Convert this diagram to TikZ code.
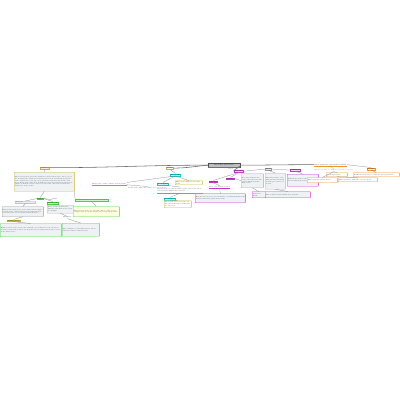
\documentclass[tikz,border=0pt]{standalone}
\usepackage{tikz}
\definecolor{brYellow}{HTML}{C9B53A}
\definecolor{brGreen}{HTML}{3FD63F}
\definecolor{brCyan}{HTML}{19C8D2}
\definecolor{brMagenta}{HTML}{CC33CC}
\definecolor{brOrange}{HTML}{F0922E}
\definecolor{brGray}{HTML}{999999}
\definecolor{notebg}{HTML}{EEF2F4}
\newcommand{\notesize}{\fontsize{4}{5.2}\selectfont}
\newcommand{\lblsize}{\fontsize{4.2}{4.8}\selectfont}

\begin{document}
\begin{tikzpicture}[x=1mm, y=-1mm,
  note/.style={draw=#1, fill=notebg, line width=0.3mm, rounded corners=0.4mm,
    anchor=north west, align=left, inner sep=0.6mm, font=\notesize, text=black!90},
  lbl/.style={draw=#1, fill=#1!20, line width=0.3mm, anchor=north west,
    inner sep=0.4mm, font=\lblsize, text=black},
  plain/.style={anchor=north west, inner sep=0.4mm, font=\notesize, align=left, text=black!90},
  sz/.style 2 args={text width=#1mm, minimum height=#2mm},
  link/.style={draw=black!50, line width=0.25mm},
  trunk/.style={draw=black!60, line width=0.55mm}]
\useasboundingbox (0,0) rectangle (400,400);

% root
\node[draw=black!70, fill=black!25, line width=0.3mm, anchor=north west, inner sep=0.4mm,
  minimum width=32mm, minimum height=4mm, font=\lblsize] (root) at (208,163) {Mind Map (Overview)};
\draw[brMagenta, line width=0.4mm] (root.south west) -- (root.south east);
\node[plain] (rootnote) at (228,168.5) {notes};

% yellow branch, left
\node[lbl=brYellow] (sum) at (40,166.5) {Summary};
\node[note=brYellow, sz={59}{19}] (sumtxt) at (14,172)
 {The overview note gives the main idea of the whole topic, the scope of the work and the terms
  used in the parts below. It lists the goals, the sources that were read, the open questions and
  the plan for the next steps. Each part of the map is linked to the part of this note that it
  explains, so that the notes can be read in order. The text is short here; details are in the boxes.};
\node[lbl=brGreen, fill=brGreen!45] (base) at (37,197.5) {Basics};
\node[note=black!35, sz={19}{2.4}] (left) at (15,201) {Left part};
\node[plain] (rightlbl) at (52,198.5) {Right};
\node[note=black!40, sz={40}{10}] (lefttxt) at (2,206.5)
 {First point of the basic part, with a short explanation of the terms and of the way that they
  are used later; the second point follows from it.};
\node[lbl=brGreen] (midlbl) at (47,201.5) {Middle part};
\node[note=black!30, sz={25}{8}] (midtxt) at (47,205)
 {Notes on the middle part, with the rule that is used and an example.};
\node[lbl=brGreen, fill=brGreen!25, text=brGreen!70!black] (steps) at (75,199) {Steps and methods of the work here};
\node[note=brGreen, fill=yellow!12, sz={45}{10}] (stepstxt) at (73,206.5)
 {The steps are done one after the other: collect, sort, compare and check the results, then
  write them down.};
\node[lbl=brYellow, fill=brGreen!30] (extra) at (7,219.5) {Further notes};
\node[note=brGreen, sz={60}{13}] (extratxt) at (0,223.5)
 {Further notes on the basic part, with the cases that were left out above and the reasons for
  it; these are kept for later reading and for the review of the whole topic.};
\node[plain] (exlbl) at (63,216.5) {Examples};
\node[note=brGreen, sz={36}{13}] (extxt) at (62,223)
 {Two examples, each with its data, the result and a short comment on it.};

% yellow branch, middle (cyan children)
\node[lbl=brYellow, fill=white] (outline) at (166,167) {Outline};
\node[lbl=brCyan] (parts) at (170,173.5) {Main parts};
\node[plain, font=\lblsize] (first) at (92,182.5) {First part of the outline and its items};
\draw[brCyan, line width=0.4mm] (first.south west) -- (first.south east);
\node[plain, sz={39}{4}] (firsttxt) at (128,186.5) {Items of the first part, with a note on each one.};
\node[lbl=brCyan] (second) at (157,182.5) {Second part};
\node[note=brYellow, fill=white, sz={26}{4}] (third) at (175,180.5) {Third part, with the list of its items};
\node[plain, sz={45}{6}] (secondtxt) at (157,187) {Notes for the second and third parts: the items, their order and the links between them.};
\draw[brCyan, line width=0.4mm] (secondtxt.south west) -- (secondtxt.south east);
\node[lbl=brCyan] (fourth) at (164,197.5) {Fourth part};
\node[note=brYellow, fill=white, sz={26}{7}] (fourthtxt) at (164,200.5)
 {The fourth part closes the outline and names the results that are expected.};

% magenta branch
\node[lbl=brMagenta] (ideas) at (234,170) {Key ideas};
\node[lbl=brMagenta] (ideaA) at (209,180.5) {Idea one};
\node[lbl=brMagenta] (ideaB) at (226,177.5) {Idea two};
\node[note=black!35, sz={21}{14}] (ideaBtxt) at (241,173.5)
 {Idea two in short: the cause, the effect and the case in which it holds, with a note.};
\node[plain, font=\lblsize] (ideaAtxt) at (209,186) {Idea one and its source};
\draw[brMagenta, line width=0.4mm] (ideaAtxt.south west) -- (ideaAtxt.south east);
\node[note=brMagenta, sz={49}{9}] (ideaCtxt) at (195,193.5)
 {How the two ideas are used together, and what follows from them for the later parts of the work.};
\node[note=brMagenta, sz={12}{6}] (ideaDtxt) at (252,191.5) {A short remark.};
\node[lbl=brGray] (terms) at (265,168) {Terms};
\node[lbl=brMagenta] (defs) at (290,169) {Definitions};
\node[note=brMagenta!60!black!40, sz={19}{16}] (termstxt) at (265,173)
 {The main terms, each with its short meaning and the place where it is used.};
\node[note=brMagenta, sz={30}{12}] (defstxt) at (287,174)
 {Definitions of the terms, as they are used in this map and in the notes.};
\node[note=brMagenta, sz={44}{6}] (termsmore) at (265,191.5)
 {More terms and the links between them.};

% orange branch
\node[plain, font=\lblsize, text=black] (open) at (314,163.5) {Open questions and further reading};
\draw[brOrange, line width=0.4mm] (open.south west) -- (open.south east);
\node[plain, text=brOrange!70!black] (opentxt) at (314,169.5) {Questions that are still open for the next step};
\node[lbl=brOrange, fill=white] (read) at (367,167.5) {Reading};
\node[note=brOrange, fill=white, sz={29}{5}] (qA) at (307,177.5) {First question and its notes};
\node[note=brOrange, fill=white, sz={20}{4}] (qB) at (326,172.5) {Second question};
\node[note=brOrange, fill=white, sz={38}{4}] (qC) at (338,177.5) {Third question, with the cases to check};
\node[note=brOrange, fill=white, sz={45}{4}] (readtxt) at (353,172.5) {Books and papers to read for the open questions};

% connectors
\draw[trunk] (root.west) to[out=185, in=0] (outline.east);
\draw[trunk] (root.west) to[out=180, in=0] (sum.east);
\draw[trunk] (root.east) to[out=0, in=180] (ideas.west);
\draw[trunk] (root.east) to[out=0, in=180] (open.west);
\draw[link] (sum.south) -- (sumtxt.north);
\draw[link] (sumtxt.south) -- (base.north);
\draw[link] (base.west) -- (left.north);
\draw[link] (base.east) -- (rightlbl.west);
\draw[link] (left.south) -- (lefttxt.north);
\draw[link] (base.east) -- (midlbl.north);
\draw[link] (midlbl.south) -- (midtxt.north);
\draw[link] (sumtxt.south east) -- (steps.north west);
\draw[link] (steps.south) -- (stepstxt.north);
\draw[link] (lefttxt.south) -- (extra.north);
\draw[link] (extra.south) -- (extratxt.north);
\draw[link] (midtxt.south) -- (exlbl.north);
\draw[link] (exlbl.south) -- (extxt.north);
\draw[link] (outline.south) -- (parts.north);
\draw[link] (parts.south) -- (first.north east);
\draw[link] (parts.south) -- (second.north);
\draw[link] (parts.south) -- (third.north);
\draw[link] (first.south east) -- (firsttxt.north);
\draw[link] (second.south) -- (secondtxt.north);
\draw[link] (secondtxt.south) -- (fourth.north);
\draw[link] (fourth.south) -- (fourthtxt.north);
\draw[link] (ideas.south) -- (ideaA.north);
\draw[link] (ideas.south) -- (ideaB.north);
\draw[link] (ideaB.east) -- (ideaBtxt.west);
\draw[link] (ideaA.south) -- (ideaAtxt.north);
\draw[link] (ideaAtxt.south) -- (ideaCtxt.north);
\draw[link] (ideaBtxt.south) -- (ideaDtxt.north);
\draw[link] (ideas.east) -- (terms.west);
\draw[link] (terms.east) -- (defs.west);
\draw[link] (terms.south) -- (termstxt.north);
\draw[link] (defs.south) -- (defstxt.north);
\draw[link] (termstxt.south) -- (termsmore.north);
\draw[link] (open.south) -- (opentxt.north);
\draw[link] (open.east) -- (read.north);
\draw[link] (opentxt.south) -- (qA.north);
\draw[link] (opentxt.south) -- (qB.north);
\draw[link] (qB.south) -- (qC.north);
\draw[link] (read.south) -- (readtxt.north);
\end{tikzpicture}
\end{document}
